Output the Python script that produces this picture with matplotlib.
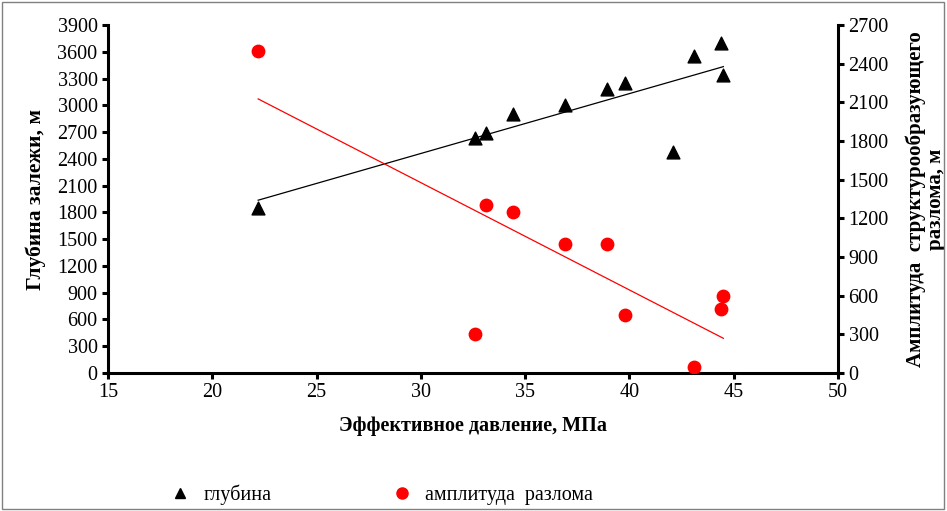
import matplotlib.pyplot as plt
import numpy as np
from matplotlib.lines import Line2D
from matplotlib.patches import Rectangle

plt.rcParams['font.family'] = ['Liberation Serif', 'DejaVu Serif']

# Effective pressure, MPa
pressure = [22.2, 32.6, 33.1, 34.4, 36.9, 38.9, 39.8, 42.1, 43.1, 44.4, 44.5]
# Reservoir depth, m
depth = [1850, 2630, 2690, 2900, 3000, 3180, 3250, 2480, 3550, 3700, 3340]
# Fault amplitude, m (same pressure order)
amplitude = [2500, 300, 1300, 1250, 1000, 1000, 450, None, 50, 500, 600]

amp_x = [p for p, a in zip(pressure, amplitude) if a is not None]
amp_y = [a for a in amplitude if a is not None]

fig = plt.figure(figsize=(9.47, 5.11), dpi=100)
ax = fig.add_axes([0.114, 0.27, 0.771, 0.681])
ax2 = ax.twinx()

ax.scatter(pressure, depth, marker='^', s=85, color='black', zorder=3)
ax2.scatter(amp_x, amp_y, marker='o', s=80, color='red', zorder=3)

# linear trend lines
xs = np.array([min(pressure), max(pressure)])
k1, b1 = np.polyfit(pressure, depth, 1)
ax.plot(xs, k1 * xs + b1, color='black', lw=0.9)
k2, b2 = np.polyfit(amp_x, amp_y, 1)
ax2.plot(xs, k2 * xs + b2, color='red', lw=0.9)

ax.set_xlim(15, 50)
ax.set_ylim(0, 3900)
ax2.set_ylim(0, 2700)
ax.set_xticks(range(15, 51, 5))
ax.set_yticks(range(0, 3901, 300))
ax2.set_yticks(range(0, 2701, 300))

for a in (ax, ax2):
    a.spines['top'].set_visible(False)
    for s in ('left', 'right', 'bottom'):
        a.spines[s].set_linewidth(2.2)
    a.tick_params(width=2.2, length=4, labelsize=14.5)
ax.spines['right'].set_visible(False)
ax2.spines['left'].set_visible(False)
ax2.spines['bottom'].set_visible(False)

ax.set_xlabel('Эффективное давление, МПа', fontsize=14.5, fontweight='bold', labelpad=10)
ax.set_ylabel('Глубина залежи, м', fontsize=15.5, fontweight='bold', labelpad=8)
ax2.set_ylabel('Амплитуда  структурообразующего\nразлома, м', fontsize=15,
               fontweight='bold', rotation=90, labelpad=12, linespacing=1.0)

handles = [Line2D([], [], marker='^', color='black', ls='none', markersize=7),
           Line2D([], [], marker='o', color='red', ls='none', markersize=8)]
fig.legend(handles, ['глубина', 'амплитуда  разлома'], loc='center',
           bbox_to_anchor=(0.403, 0.031), ncol=2, frameon=False, fontsize=14.5,
           columnspacing=6.0, handlelength=1.0, handletextpad=0.65)

fig.patches.append(Rectangle((0.002, 0.004), 0.995, 0.992, transform=fig.transFigure,
                             fill=False, edgecolor='#808080', lw=1))

fig.savefig('out.png', dpi=100)
